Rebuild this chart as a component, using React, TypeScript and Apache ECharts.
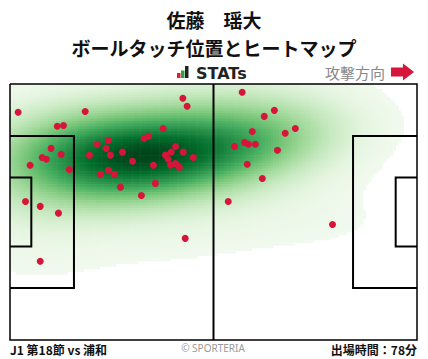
import React, { useEffect, useRef } from "react";
import * as echarts from "echarts";

// Pitch dimensions (metres), x = attacking direction (left → right), y from top touchline
const PITCH_LENGTH = 105;
const PITCH_WIDTH = 68;

// Ball-touch positions (metres)
const touchX = [
  2.1, 19.4, 12.2, 13.8, 44.6, 45.7, 39.5, 10.6, 13.2, 8.3, 9.4, 5.2, 15.3, 22.5, 25.4, 24.8,
  20.5, 25.9, 29.0, 31.6, 25.4, 23.3, 26.9, 28.5, 33.9, 34.6, 35.7, 37.0, 37.5, 40.1, 40.8,
  41.6, 42.7, 44.7, 42.7, 41.4, 43.7, 47.3, 4.0, 7.8, 12.5, 7.8, 45.2, 59.9, 68.2, 65.6,
  62.5, 73.6, 71.0, 60.5, 61.5, 63.3, 57.9, 69.0, 61.2, 65.1, 56.3, 83.2,
];
const touchY = [
  7.5, 7.3, 11.2, 11.0, 3.8, 5.9, 11.8, 17.1, 18.7, 19.5, 20.0, 21.6, 22.7, 16.0, 15.0, 17.1,
  18.9, 18.9, 18.1, 20.5, 22.9, 24.0, 24.0, 27.4, 29.6, 14.4, 13.9, 21.6, 26.4, 18.9, 20.0,
  18.1, 16.6, 18.1, 21.1, 21.6, 22.1, 19.5, 31.2, 32.5, 34.3, 47.1, 41.0, 2.2, 7.0, 8.6,
  12.6, 11.8, 13.1, 15.5, 16.0, 16.0, 16.6, 17.6, 21.3, 25.1, 31.2, 37.3,
];

const titleName = "佐藤　瑶大";
const titleSub = "ボールタッチ位置とヒートマップ";
const matchLabel = "J1 第18節 vs 浦和";
const minutesLabel = "出場時間：78分";
const directionLabel = "攻撃方向";

// Greens colour ramp
const GREENS = [
  [247, 252, 245], [229, 245, 224], [199, 233, 192], [161, 217, 155], [116, 196, 118],
  [65, 171, 93], [35, 139, 69], [0, 109, 44], [0, 68, 27],
];
function greens(t: number): string {
  const v = Math.max(0, Math.min(1, t)) * (GREENS.length - 1);
  const i = Math.min(GREENS.length - 2, Math.floor(v));
  const f = v - i;
  const a = GREENS[i], b = GREENS[i + 1];
  const c = a.map((x, k) => Math.round(x + (b[k] - x) * f));
  return `rgb(${c[0]},${c[1]},${c[2]})`;
}

// Gaussian KDE (Scott's rule × adjust, full covariance) on a grid
const NX = 150;
const NY = 97;
const DX = PITCH_LENGTH / NX;
const DY = PITCH_WIDTH / NY;
const THRESH = 0.042;
const BW_ADJUST = 1.55;

function buildKde() {
  const n = touchX.length;
  const mx = touchX.reduce((s, v) => s + v, 0) / n;
  const my = touchY.reduce((s, v) => s + v, 0) / n;
  let sxx = 0, syy = 0, sxy = 0;
  for (let i = 0; i < n; i++) {
    sxx += (touchX[i] - mx) ** 2;
    syy += (touchY[i] - my) ** 2;
    sxy += (touchX[i] - mx) * (touchY[i] - my);
  }
  sxx /= n - 1; syy /= n - 1; sxy /= n - 1;
  const f2 = Math.pow(n, -1 / 3) * BW_ADJUST * BW_ADJUST;
  const a = sxx * f2, d = syy * f2, b = sxy * f2;
  const det = a * d - b * b;
  const ia = d / det, id = a / det, ib = -b / det;
  const grid: number[][] = [];
  let max = 0;
  for (let j = 0; j < NY; j++) {
    for (let i = 0; i < NX; i++) {
      const x = (i + 0.5) * DX, y = (j + 0.5) * DY;
      let s = 0;
      for (let k = 0; k < n; k++) {
        const ex = x - touchX[k], ey = y - touchY[k];
        s += Math.exp(-0.5 * (ia * ex * ex + 2 * ib * ex * ey + id * ey * ey));
      }
      if (s > max) max = s;
      grid.push([x, y, s]);
    }
  }
  return grid
    .map((g) => [g[0], g[1], g[2] / max])
    .filter((g) => g[2] >= THRESH);
}

// Pitch markings (metres)
const OUTER = [[0, 0], [105, 0], [105, 68], [0, 68], [0, 0]];
const MARKINGS = [
  [[52.5, 0], [52.5, 68]],
  [[0, 13.84], [16.5, 13.84], [16.5, 54.16], [0, 54.16]],
  [[0, 24.84], [5.5, 24.84], [5.5, 43.16], [0, 43.16]],
  [[105, 13.84], [88.5, 13.84], [88.5, 54.16], [105, 54.16]],
  [[105, 24.84], [99.5, 24.84], [99.5, 43.16], [105, 43.16]],
];

const JP = '"Noto Sans CJK JP", "Noto Sans", sans-serif';

export default function App() {
  const ref = useRef<HTMLDivElement>(null);
  useEffect(() => {
    if (!ref.current) return;
    const chart = echarts.init(ref.current, undefined, { renderer: "svg" });
    const heat = buildKde();
    chart.setOption({
      animation: false,
      backgroundColor: "#ffffff",
      grid: { left: 10, top: 84, width: 407, height: 256, containLabel: false },
      xAxis: { type: "value", min: 0, max: PITCH_LENGTH, show: false },
      yAxis: { type: "value", min: 0, max: PITCH_WIDTH, inverse: true, show: false },
      series: [
        {
          type: "custom",
          clip: true,
          silent: true,
          z: 1,
          data: heat,
          encode: { x: 0, y: 1 },
          renderItem: (params: any, api: any) => {
            const x = api.value(0), y = api.value(1), t = api.value(2);
            const p0 = api.coord([x - DX / 2, y - DY / 2]);
            const p1 = api.coord([x + DX / 2, y + DY / 2]);
            return {
              type: "rect",
              shape: {
                x: Math.min(p0[0], p1[0]),
                y: Math.min(p0[1], p1[1]),
                width: Math.abs(p1[0] - p0[0]) + 0.6,
                height: Math.abs(p1[1] - p0[1]) + 0.6,
              },
              style: { fill: greens(t), stroke: null },
            };
          },
        },
        {
          type: "custom",
          clip: false,
          silent: true,
          z: 3,
          data: [[0, 0]],
          renderItem: (params: any, api: any) => ({
            type: "group",
            children: [
              {
                type: "polyline",
                shape: { points: OUTER.map((p) => api.coord(p)) },
                style: { stroke: "#000", lineWidth: 1.5, fill: null },
              },
              ...MARKINGS.map((seg) => ({
                type: "polyline",
                shape: { points: seg.map((p) => api.coord(p)) },
                style: { stroke: "#000", lineWidth: 2, fill: null },
              })),
            ],
          }),
        },
        {
          type: "scatter",
          z: 5,
          symbolSize: 7,
          itemStyle: { color: "#d7153a", opacity: 1 },
          data: touchX.map((x, i) => [x, touchY[i]]),
        },
      ],
      graphic: [
        {
          type: "text", x: 214, y: 19.5,
          style: { text: titleName, font: `bold 19px ${JP}`, fill: "#111", align: "center", verticalAlign: "middle" },
        },
        {
          type: "text", x: 214, y: 47,
          style: { text: titleSub, font: `bold 19px ${JP}`, fill: "#111", align: "center", verticalAlign: "middle" },
        },
        { type: "rect", shape: { x: 177, y: 73, width: 3.5, height: 5 }, style: { fill: "#e0202e" } },
        { type: "rect", shape: { x: 181, y: 70.5, width: 3.5, height: 7.5 }, style: { fill: "#2fa043" } },
        { type: "rect", shape: { x: 185, y: 66, width: 3.5, height: 12 }, style: { fill: "#222" } },
        {
          type: "text", x: 196, y: 73,
          style: { text: "STATs", font: `bold 16px "DejaVu Sans", sans-serif`, fill: "#222", align: "left", verticalAlign: "middle" },
        },
        {
          type: "text", x: 385, y: 72,
          style: { text: directionLabel, font: `15px ${JP}`, fill: "#888", align: "right", verticalAlign: "middle" },
        },
        {
          type: "polygon",
          shape: { points: [[391, 67.5], [403, 67.5], [403, 63.5], [414, 72], [403, 80.5], [403, 76.5], [391, 76.5]] },
          style: { fill: "#d7153a" },
        },
        {
          type: "text", x: 10, y: 349,
          style: { text: matchLabel, font: `bold 12px ${JP}`, fill: "#111", align: "left", verticalAlign: "middle" },
        },
        {
          type: "text", x: 213, y: 348,
          style: { text: "© SPORTERIA", font: `10px "Noto Sans", sans-serif`, fill: "#999", align: "center", verticalAlign: "middle" },
        },
        {
          type: "text", x: 417, y: 349,
          style: { text: minutesLabel, font: `bold 12px ${JP}`, fill: "#111", align: "right", verticalAlign: "middle" },
        },
      ],
    });
    return () => chart.dispose();
  }, []);
  return (
    <div
      ref={ref}
      style={{ position: "fixed", left: 0, top: 0, width: 428, height: 359, background: "#fff" }}
    />
  );
}
